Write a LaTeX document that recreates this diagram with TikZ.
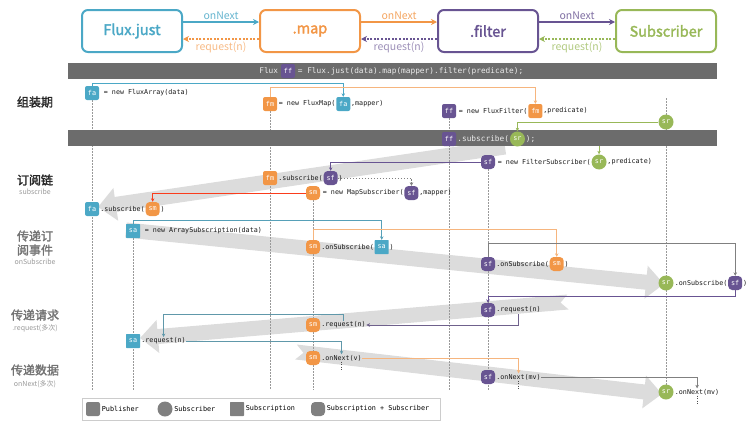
\documentclass[tikz,border=0pt]{standalone}
\usepackage{fontspec}
\setmonofont{DejaVu Sans Mono}
\newfontfamily\cjk[AutoFakeBold=2]{Noto Sans CJK SC}
\usetikzlibrary{positioning,arrows.meta}
\definecolor{cteal}{RGB}{75,168,198}
\definecolor{corange}{RGB}{242,150,70}
\definecolor{cpurple}{RGB}{104,84,146}
\definecolor{cgreen}{RGB}{152,184,88}
\definecolor{cbar}{RGB}{108,108,108}
\definecolor{cband}{RGB}{220,220,220}
\pgfdeclarelayer{back}
\pgfdeclarelayer{mid}
\pgfsetlayers{back,mid,main}
\tikzset{
  box/.style={draw=#1, line width=2pt, rounded corners=6pt, minimum width=100, minimum height=42,
    text=#1, font=\cjk\bfseries\fontsize{14.5}{14.5}\selectfont},
  toplbl/.style={font=\cjk\fontsize{10.5}{11}\selectfont, inner sep=1pt},
  nxt/.style={draw=#1, line width=1.6pt, -{Stealth[length=6pt,width=6pt]}},
  rq/.style={draw=#1, line width=2pt, dash pattern=on 2pt off 1.6pt, -{Stealth[length=6pt,width=6pt]}},
  badge/.style={fill=#1, minimum size=14, inner sep=0, text=white, font=\ttfamily\fontsize{6.8}{6.8}\selectfont},
  pubb/.style={badge=#1, rounded corners=2pt},
  subb/.style={badge=#1, circle, minimum size=15},
  subnb/.style={badge=#1, rounded corners=0.6pt},
  bothb/.style={badge=#1, rounded corners=4pt},
  code/.style={inner sep=0.5pt, text=black!90, font=\ttfamily\fontsize{6.7}{7}\selectfont},
  bartxt/.style={inner sep=0.5pt, text=white!92!black, font=\ttfamily\fontsize{7.8}{8}\selectfont},
  legtxt/.style={inner sep=0.5pt, font=\ttfamily\fontsize{6.8}{7}\selectfont},
  sect/.style={font=\cjk\bfseries\fontsize{12}{14}\selectfont, text=black!85, align=center},
  sectg/.style={sect, text=black!55},
  sublbl/.style={font=\cjk\fontsize{7}{8}\selectfont, text=black!40},
  life/.style={draw=black!40, line width=0.4pt, dash pattern=on 1.5pt off 1.5pt},
  conn/.style={draw=#1, line width=0.5pt, -{Stealth[length=3.5pt,width=3.5pt]}},
  cont/.style={draw=black!70, line width=0.7pt, dash pattern=on 1pt off 1.5pt},
  band/.style={draw=cband, line width=15pt, -{Triangle[length=18pt,width=32pt]}},
  notch/.style={band, {Triangle Cap[reversed]}-{Triangle[length=18pt,width=32pt]}},
}
\begin{document}
\begin{tikzpicture}[x=1pt,y=-1pt]
  \useasboundingbox (0,0) rectangle (750,421);

  \node[box=cteal] (just) at (132,31) {Flux.just};
  \node[box=corange] (map) at (310,31) {.map};
  \node[box=cpurple] (filter) at (488,31) {.filter};
  \node[box=cgreen] (subs) at (666,31) {Subscriber};
  \draw[nxt=cteal] ([yshift=9pt]just.east) -- node[toplbl,above=1pt,text=cteal!85]{onNext} ([yshift=9pt]map.west);
  \draw[nxt=corange] ([yshift=9pt]map.east) -- node[toplbl,above=1pt,text=corange!85]{onNext} ([yshift=9pt]filter.west);
  \draw[nxt=cpurple] ([yshift=9pt]filter.east) -- node[toplbl,above=1pt,text=cpurple!85]{onNext} ([yshift=9pt]subs.west);
  \draw[rq=corange] ([yshift=-8pt]map.west) -- node[toplbl,below=1pt,text=corange!65]{request(n)} ([yshift=-8pt]just.east);
  \draw[rq=cpurple] ([yshift=-8pt]filter.west) -- node[toplbl,below=1pt,text=cpurple!65]{request(n)} ([yshift=-8pt]map.east);
  \draw[rq=cgreen] ([yshift=-8pt]subs.west) -- node[toplbl,below=1pt,text=cgreen!75]{request(n)} ([yshift=-8pt]filter.east);

  \node[sect] (lab1) at (35,102) {组装期};
  \node[sect] (lab2) at (35,180) {订阅链};
  \node[sublbl] at (35,192) {subscribe};
  \node[sectg] (lab3) at (35,243) {传递订\\阅事件};
  \node[sublbl] at (35,262) {onSubscribe};
  \node[sectg] (lab4) at (35,315) {传递请求};
  \node[sublbl] at (35,328) {.request(多次)};
  \node[sectg] (lab5) at (35,370) {传递数据};
  \node[sublbl] at (35,384) {onNext(多次)};

  \begin{pgfonlayer}{mid}
    \fill[cbar] (68,63) rectangle (717,79);
    \fill[cbar] (68,130) rectangle (717,146);
  \end{pgfonlayer}
  \node[pubb=cpurple] (ff0) at (288,71) {ff};
  \node[bartxt,left=2pt of ff0] {Flux};
  \node[bartxt,right=2pt of ff0] {= Flux.just(data).map(mapper).filter(predicate);};

  \node[pubb=cteal] (fa1) at (92,93) {fa};
  \node[code,right=4pt of fa1] (fa1t) {= new FluxArray(data)};
  \node[pubb=corange] (fm1) at (270,104) {fm};
  \node[code,right=1pt of fm1] (fm1t) {= new FluxMap(};
  \node[pubb=cteal,right=0pt of fm1t] (fa2) {fa};
  \node[code,right=0pt of fa2] {,mapper)};
  \node[pubb=cpurple] (ff1) at (449,111) {ff};
  \node[code,right=2pt of ff1] (ff1t) {= new FluxFilter(};
  \node[pubb=corange,right=0pt of ff1t] (fm2) {fm};
  \node[code,right=0pt of fm2] {,predicate)};
  \node[subb=cgreen] (sr1) at (666,122) {sr};

  \node[pubb=cpurple] (ff2) at (449,139) {ff};
  \node[bartxt,right=0.5pt of ff2] (ff2t) {.subscribe(};
  \node[subb=cgreen,right=0pt of ff2t] (sr2) {sr};
  \node[bartxt,right=0pt of sr2] {);};

  \node[bothb=cpurple] (sf1) at (488,162) {sf};
  \node[code,right=2pt of sf1] (sf1t) {= new FilterSubscriber(};
  \node[subb=cgreen,right=0pt of sf1t] (sr3) {sr};
  \node[code,right=0pt of sr3] {,predicate)};
  \node[pubb=corange] (fm3) at (270,178) {fm};
  \node[code,right=0.5pt of fm3] (fm3t) {.subscribe(};
  \node[bothb=cpurple,right=0pt of fm3t] (sf2) {sf};
  \node[code,right=0pt of sf2] {)};
  \node[bothb=corange] (sm1) at (313,193) {sm};
  \node[code,right=2pt of sm1] (sm1t) {= new MapSubscriber(};
  \node[bothb=cpurple,right=0pt of sm1t] (sf3) {sf};
  \node[code,right=0pt of sf3] {,mapper)};
  \node[pubb=cteal] (fa3) at (92,209) {fa};
  \node[code,right=0.5pt of fa3] (fa3t) {.subscribe(};
  \node[bothb=corange,right=0pt of fa3t] (sm2) {sm};
  \node[code,right=0pt of sm2] {)};

  \node[subnb=cteal] (sa1) at (133,231) {sa};
  \node[code,right=4pt of sa1] {= new ArraySubscription(data)};
  \node[bothb=corange] (sm3) at (313,247) {sm};
  \node[code,right=0.5pt of sm3] (sm3t) {.onSubscribe(};
  \node[subnb=cteal,right=0pt of sm3t] (sa2) {sa};
  \node[code,right=0pt of sa2] {)};
  \node[bothb=cpurple] (sf4) at (488,264) {sf};
  \node[code,right=0.5pt of sf4] (sf4t) {.onSubscribe(};
  \node[bothb=corange,right=0pt of sf4t] (sm4) {sm};
  \node[code,right=0pt of sm4] {)};
  \node[subb=cgreen] (sr4) at (666,283) {sr};
  \node[code,right=0.5pt of sr4] (sr4t) {.onSubscribe(};
  \node[bothb=cpurple,right=0pt of sr4t] (sf5) {sf};
  \node[code,right=0pt of sf5] {)};

  \node[bothb=cpurple] (sf6) at (488,310) {sf};
  \node[code,right=0.5pt of sf6] (sf6t) {.request(n)};
  \node[bothb=corange] (sm5) at (313,325) {sm};
  \node[code,right=0.5pt of sm5] (sm5t) {.request(n)};
  \node[subnb=cteal] (sa3) at (133,341) {sa};
  \node[code,right=0.5pt of sa3] (sa3t) {.request(n)};

  \node[bothb=corange] (sm6) at (313,358) {sm};
  \node[code,right=0.5pt of sm6] (sm6t) {.onNext(v)};
  \node[bothb=cpurple] (sf7) at (488,377) {sf};
  \node[code,right=0.5pt of sf7] (sf7t) {.onNext(mv)};
  \node[subb=cgreen] (sr5) at (666,392) {sr};
  \node[code,right=0.5pt of sr5] (sr5t) {.onNext(mv)};

  \begin{pgfonlayer}{back}
    \draw[band] (505,147) -- (98,207);
    \draw[band] (126,230) -- (664,284);
    \draw[notch] (568,302) -- (140,338);
    \draw[notch] (296,352) -- (662,394);
    \foreach \n in {fa1,fm1,ff1,sm1,sa1,sf1}
      \draw[life] (\n.south) -- (\n |- 0,390);
    \draw[life] ([yshift=16pt]sr1.north) -- (sr1 |- 0,396);
    \draw[conn=cgreen] (sr2.east) -| (sr3.north);
  \end{pgfonlayer}

  \draw[conn=cteal] (fa1.north) -- ++(0,-3) -| (fa2.north);
  \draw[conn=corange!70] (fm1.north) -- ++(0,-10) -| (fm2.north);
  \draw[conn=cgreen] (sr1.west) -| (sr2.north);
  \draw[conn=cpurple] (sf1.west) -| (sf2.north);
  \draw[conn=gray,dash pattern=on 1.5pt off 1.5pt] (sf2.east) -| (sf3.north);
  \draw[conn=red!60!corange] (sm1.west) -| (sm2.north);
  \draw[conn=cteal!80!gray] (sa1.north) -- ++(0,-4) -| (sa2.north);
  \draw[conn=corange!70] (sm3.north) -- ++(0,-11) -| (sm4.north);
  \draw[conn=gray] (sf4.north) -- ++(0,-14) -| (sf5.north);
  \draw[conn=cpurple] (sf5.south) -- ++(0,6) -| (sf6.north);
  \draw[conn=cpurple!70!gray] (sf6t.south) |- (sm5t.east);
  \draw[conn=cteal!60!gray] (sm5t.north) -- ++(0,-7) -| (sa3t.north);
  \draw[conn=cteal!60!gray] (sa3t.east) -| (sm6t.north);
  \draw[conn=corange!70] (sm6t.east) -| (sf7t.north);
  \draw[conn=gray] (sf7t.east) -| (sr5t.north);
  \draw[cont] (sm6t.south) -- ++(0,10);
  \draw[cont] (sf7t.south) -- ++(0,10);
  \draw[cont] (sr5t.south) -- ++(0,10);

  \draw[black!20] (82,398) rectangle (440,420);
  \node[pubb=gray,minimum size=14] (lg1) at (93,409) {};
  \node[legtxt,right=1pt of lg1] {Publisher};
  \node[subb=gray,minimum size=15] (lg2) at (165,409) {};
  \node[legtxt,right=1pt of lg2] {Subscriber};
  \node[subnb=gray,minimum size=14] (lg3) at (237,409) {};
  \node[legtxt,right=1pt of lg3] {Subscription};
  \node[bothb=gray,minimum size=14] (lg4) at (318,409) {};
  \node[legtxt,right=1pt of lg4] {Subscription + Subscriber};
\end{tikzpicture}
\end{document}
